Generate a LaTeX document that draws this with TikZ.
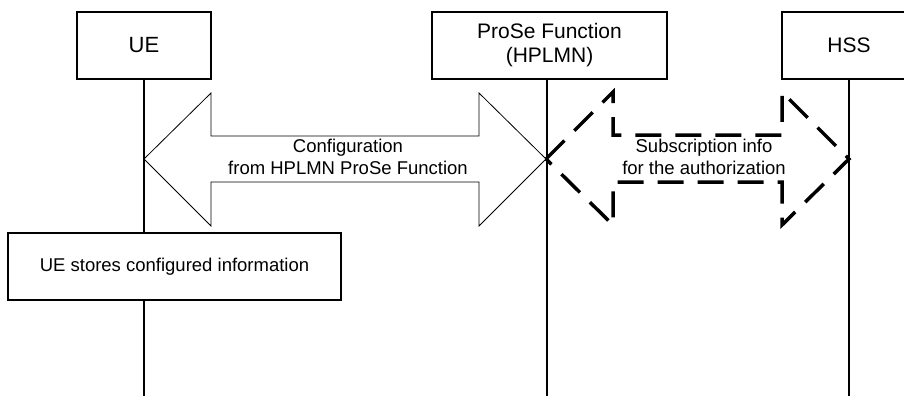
\documentclass[tikz,border=0pt]{standalone}
\usepackage{fontspec}
\setmainfont{Liberation Sans}
\begin{document}
\begin{tikzpicture}[x=1pt,y=-1pt,
  entity/.style={draw,line width=1.2pt,minimum height=67pt,inner sep=0pt,align=center,font=\fontsize{21}{24}\selectfont},
  actbox/.style={draw,line width=1.2pt,minimum height=67pt,inner sep=0pt,align=center,font=\fontsize{18.5}{22}\selectfont},
  life/.style={line width=1.2pt},
  bigarrow/.style={line width=0.8pt},
  dasharrow/.style={line width=3.5pt,dash pattern=on 26pt off 14pt},
  lbl/.style={align=center,inner sep=0pt,font=\fontsize{18.5}{22}\selectfont}]
\clip (0,0) rectangle (904,396);
\useasboundingbox (0,0) rectangle (904,396);
% entities
\node[entity,minimum width=134pt] (ue) at (144,45.5) {\fontsize{22}{24}\selectfont UE};
\node[entity,minimum width=235pt] (pf) at (549.5,45.5) {ProSe Function\\(HPLMN)};
\node[entity,minimum width=134pt] (hss) at (849,45.5) {HSS};
\node[actbox,minimum width=333pt] (store) at (174.5,266.5) {UE stores configured information};
% end points
\coordinate (ueend) at (144,396);
\coordinate (pfend) at (547,396);
\coordinate (hssend) at (849,396);
% lifelines
\draw[life] (ue.south) -- (ue.south |- store.north);
\draw[life] (ue.south |- store.south) -- (ueend);
\draw[life] (pf.south -| pfend) -- (pfend);
\draw[life] (hss.south) -- (hssend);
% solid double arrow
\coordinate (a1l) at (144,159);
\coordinate (a1r) at (546,159);
\draw[bigarrow] (a1l) -- (211,93) -- (211,136) -- (479,136) -- (479,93) -- (a1r)
  -- (479,226) -- (479,182) -- (211,182) -- (211,226) -- cycle;
\node[lbl] (cfg) at (348,157) {Configuration\\from HPLMN ProSe Function};
% dashed double arrow
\coordinate (a2l) at (546,159);
\coordinate (a2r) at (849,159);
\draw[dasharrow] (a2l) -- (613,92) -- (613,135) -- (782,135) -- (782,92) -- (a2r)
  -- (782,225) -- (782,182) -- (613,182) -- (613,225) -- cycle;
\node[lbl] (sub) at (704,157) {Subscription info\\for the authorization};
\end{tikzpicture}
\end{document}
